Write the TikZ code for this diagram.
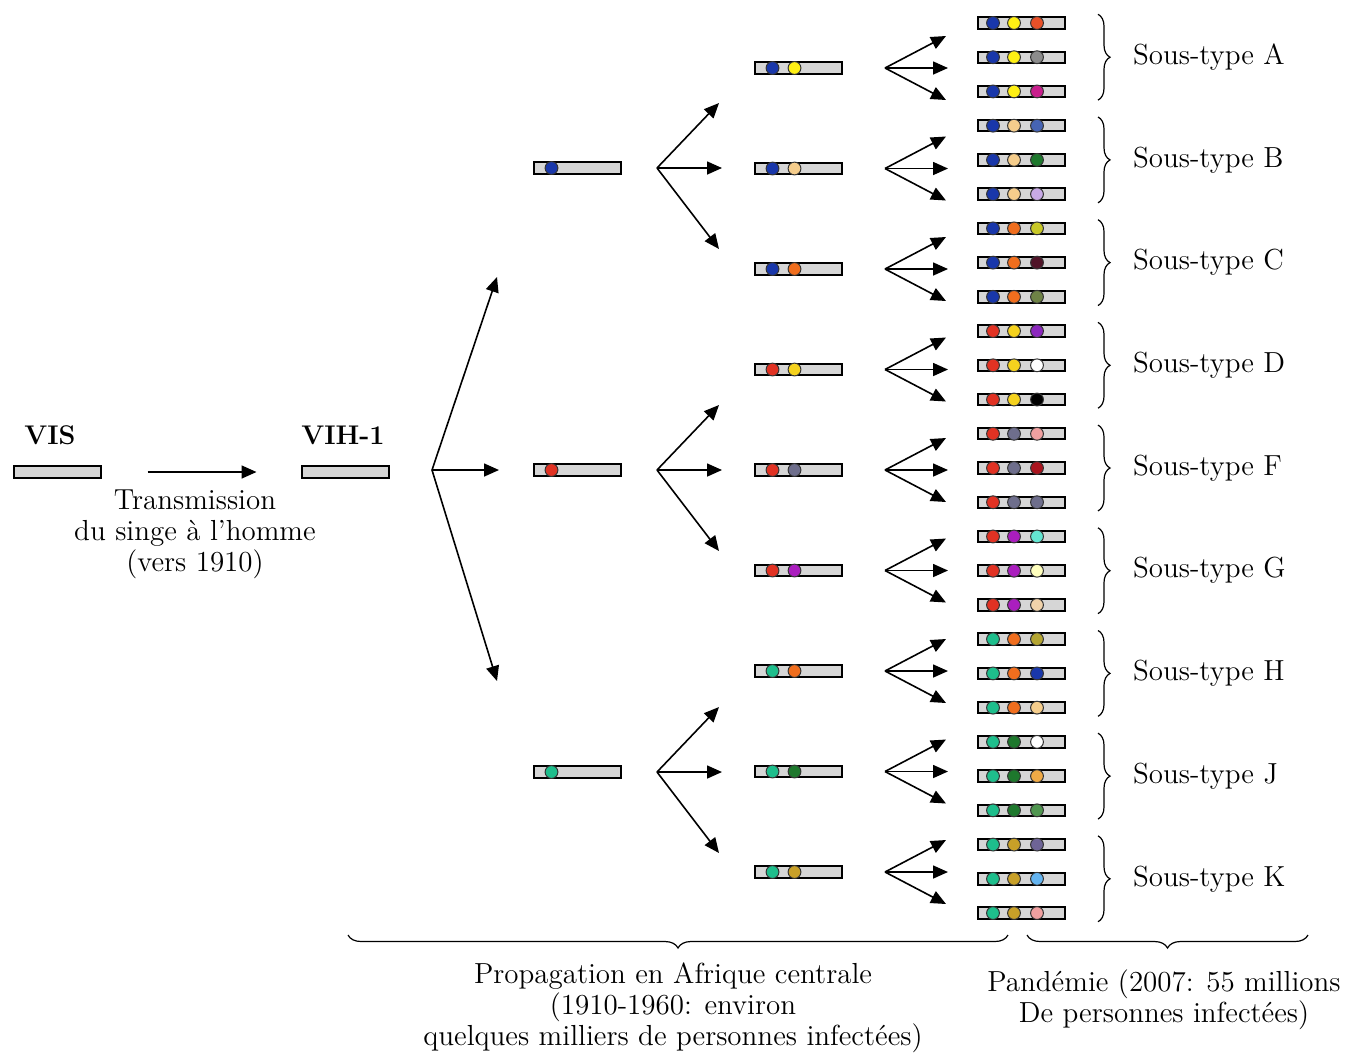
\documentclass[tikz,border=0pt]{standalone}
\usetikzlibrary{arrows.meta,decorations.pathreplacing}

% couleurs des pastilles
\definecolor{fondbarre}{RGB}{214,214,214}
\definecolor{bleu}{RGB}{25,55,170}
\definecolor{jaune}{RGB}{255,240,20}
\definecolor{beige}{RGB}{245,205,140}
\definecolor{orange}{RGB}{240,110,30}
\definecolor{rouge}{RGB}{225,50,35}
\definecolor{jauneor}{RGB}{245,210,30}
\definecolor{ardoise}{RGB}{110,110,140}
\definecolor{pourpre}{RGB}{170,30,190}
\definecolor{turquoise}{RGB}{30,190,140}
\definecolor{vert}{RGB}{30,120,45}
\definecolor{ocre}{RGB}{200,160,40}
\definecolor{vermillon}{RGB}{232,80,40}
\definecolor{gris}{RGB}{140,140,140}
\definecolor{fuchsia}{RGB}{200,30,140}
\definecolor{acier}{RGB}{70,100,180}
\definecolor{lavande}{RGB}{200,170,230}
\definecolor{citron}{RGB}{200,200,40}
\definecolor{bordeaux}{RGB}{80,20,40}
\definecolor{olive}{RGB}{110,130,70}
\definecolor{violet}{RGB}{140,40,190}
\definecolor{rose}{RGB}{240,160,160}
\definecolor{grenat}{RGB}{170,20,30}
\definecolor{aqua}{RGB}{100,230,210}
\definecolor{creme}{RGB}{255,255,190}
\definecolor{sable}{RGB}{240,210,170}
\definecolor{kaki}{RGB}{180,165,50}
\definecolor{abricot}{RGB}{240,170,70}
\definecolor{vertclair}{RGB}{80,150,80}
\definecolor{mauve}{RGB}{110,100,150}
\definecolor{ciel}{RGB}{100,180,240}

\tikzset{
    barre/.style={draw, line width=1pt, fill=fondbarre, minimum width=43.5pt, minimum height=5.7pt, inner sep=0pt},
    pastille/.style={draw=black!80, line width=0.5pt},
    fleche/.style={-{Triangle[length=7.5pt,width=6.5pt]}, line width=0.8pt},
    accolade/.style={decorate, decoration={brace, amplitude=6pt}, line width=0.6pt},
    texte/.style={font=\fontsize{14.5}{15.5}\selectfont, align=center},
    titre/.style={font=\fontsize{13.5}{15}\selectfont\bfseries},
    etiquette/.style={font=\fontsize{14.5}{15.5}\selectfont, anchor=west},
}

\begin{document}
\begin{tikzpicture}[x=0.5pt, y=-0.5pt]
    \useasboundingbox (0,0) rectangle (1369,1056);

    % Transmission du singe à l'homme
    \node[barre] (vis) at (57,472) {};
    \node[barre] (vih) at (345,472) {};
    \node[titre] (tvis) at (50,435) {VIS};
    \node[titre] (tvih) at (343,435) {VIH-1};
    \draw[fleche, shorten <=23pt, shorten >=22pt] (vis) -- (vih);
    \node[texte] (ttrans) at (195,534) {Transmission\\du singe à l’homme\\(vers 1910)};

    % Première séparation
    \coordinate (b0) at (432,470);
    \coordinate (b0-h) at (497,277);
    \coordinate (b0-m) at (499,470);
    \coordinate (b0-b) at (497,681);
    \foreach \d in {h,m,b} {
        \draw[fleche] (b0) -- (b0-\d);
    }

    % Première génération
    \foreach \i/\y/\c in {1/168/bleu, 2/470/rouge, 3/772/turquoise} {
        \node[barre] (n1-\i) at (577,\y) {};
        \filldraw[pastille, fill=\c] ([xshift=9.5pt]n1-\i.west) circle (3.2pt);
        \coordinate (b1-\i) at (657,\y);
        \coordinate (b1-\i-h) at (719,{\y-65});
        \coordinate (b1-\i-m) at (722,\y);
        \coordinate (b1-\i-b) at (719,{\y+81});
        \foreach \d in {h,m,b} {
            \draw[fleche] (b1-\i) -- (b1-\i-\d);
        }
    }

    % Deuxième et troisième générations, sous-types
    \foreach \k/\lettre/\a/\b/\p/\q/\r [evaluate=\k as \yb using 68+100.5*\k, evaluate=\k as \yc using 57.2+102.7*\k] in {
        0/A/bleu/jaune/vermillon/gris/fuchsia,
        1/B/bleu/beige/acier/vert/lavande,
        2/C/bleu/orange/citron/bordeaux/olive,
        3/D/rouge/jauneor/violet/white/black,
        4/F/rouge/ardoise/rose/grenat/ardoise,
        5/G/rouge/pourpre/aqua/creme/sable,
        6/H/turquoise/orange/kaki/bleu/beige,
        7/J/turquoise/vert/white/abricot/vertclair,
        8/K/turquoise/ocre/mauve/ciel/rose} {
        \node[barre] (n2-\k) at (798,\yb) {};
        \filldraw[pastille, fill=\a] ([xshift=9.5pt]n2-\k.west) circle (3.2pt);
        \filldraw[pastille, fill=\b] ([xshift=20.5pt]n2-\k.west) circle (3.2pt);

        \coordinate (b2-\k) at (885,\yb);
        \coordinate (b2-\k-h) at (946,{\yb-32});
        \coordinate (b2-\k-m) at (948,\yb);
        \coordinate (b2-\k-b) at (946,{\yb+32});
        \foreach \d in {h,m,b} {
            \draw[fleche] (b2-\k) -- (b2-\k-\d);
        }

        \foreach \j/\c in {1/\p, 2/\q, 3/\r} {
            \node[barre] (n3-\k-\j) at (1021.5,{\yc+34.23*(\j-2)}) {};
            \filldraw[pastille, fill=\a] ([xshift=8pt]n3-\k-\j.west) circle (3.2pt);
            \filldraw[pastille, fill=\b] ([xshift=18.5pt]n3-\k-\j.west) circle (3.2pt);
            \filldraw[pastille, fill=\c] ([xshift=30pt]n3-\k-\j.west) circle (3.2pt);
        }

        \draw[accolade] ([xshift=16pt,yshift=1pt]n3-\k-1.north east) -- ([xshift=16pt,yshift=-1pt]n3-\k-3.south east);
        \node[etiquette] (st-\k) at (1126,\yc) {Sous-type \lettre};
    }

    % Accolades du bas
    \coordinate (a1) at (1008,935);
    \coordinate (a2) at (348,935);
    \coordinate (a3) at (1308,935);
    \coordinate (a4) at (1027,935);
    \draw[accolade, decoration={amplitude=6.5pt}] (a1) -- (a2);
    \draw[accolade, decoration={amplitude=6.5pt}] (a3) -- (a4);

    \node[texte] (tprop) at (673,1008) {Propagation en Afrique centrale\\(1910-1960: environ\\quelques milliers de personnes infectées)};
    \node[texte] (tpand) at (1164,1000) {Pandémie (2007: 55 millions\\De personnes infectées)};
\end{tikzpicture}
\end{document}
